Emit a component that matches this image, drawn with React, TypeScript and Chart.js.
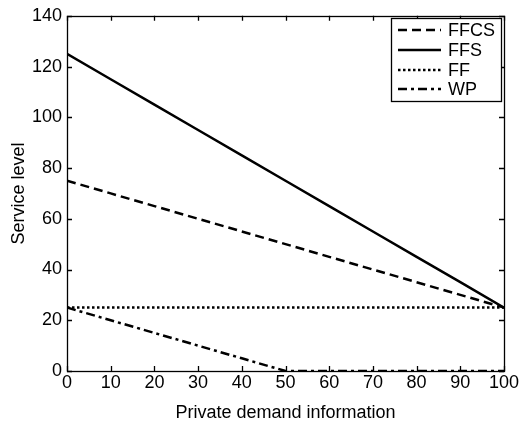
import React, { useEffect, useRef } from "react";
import { Chart, registerables } from "chart.js";

Chart.register(...registerables);

const xValues = [0, 10, 20, 30, 40, 50, 60, 70, 80, 90, 100];
const ffcs = [75, 70, 65, 60, 55, 50, 45, 40, 35, 30, 25];
const ffs = [125, 115, 105, 95, 85, 75, 65, 55, 45, 35, 25];
const ff = [25, 25, 25, 25, 25, 25, 25, 25, 25, 25, 25];
const wp = [25, 20, 15, 10, 5, 0, 0, 0, 0, 0, 0];
const seriesLabels = ["FFCS", "FFS", "FF", "WP"];
const xTicks = [0, 10, 20, 30, 40, 50, 60, 70, 80, 90, 100];
const yTicks = [0, 20, 40, 60, 80, 100, 120, 140];

const FONT = "'Liberation Sans', Arial, Helvetica, sans-serif";
const FS = 18;

const boxPlugin = {
  id: "matlabBox",
  afterDatasetsDraw(chart: any) {
    const { ctx, chartArea, scales } = chart;
    const { left, right, top, bottom } = chartArea;
    ctx.save();
    ctx.strokeStyle = "#000";
    ctx.lineWidth = 1.3;
    ctx.setLineDash([]);
    ctx.strokeRect(Math.round(left) + 0.5, Math.round(top) + 0.5, Math.round(right - left), Math.round(bottom - top));
    const tl = 5;
    ctx.beginPath();
    xTicks.forEach((v) => {
      const px = Math.round(scales.x.getPixelForValue(v)) + 0.5;
      ctx.moveTo(px, bottom);
      ctx.lineTo(px, bottom - tl);
      ctx.moveTo(px, top);
      ctx.lineTo(px, top + tl);
    });
    yTicks.forEach((v) => {
      const py = Math.round(scales.y.getPixelForValue(v)) + 0.5;
      ctx.moveTo(left, py);
      ctx.lineTo(left + tl, py);
      ctx.moveTo(right, py);
      ctx.lineTo(right - tl, py);
    });
    ctx.stroke();

    // legend
    const bx = 391, by = 18, bw = 110, bh = 83;
    ctx.fillStyle = "#fff";
    ctx.fillRect(bx, by, bw, bh);
    ctx.strokeRect(bx + 0.5, by + 0.5, bw, bh);
    const rows = [30, 50, 70, 89];
    chart.data.datasets.forEach((ds: any, i: number) => {
      const y = rows[i];
      ctx.beginPath();
      ctx.setLineDash(ds.borderDash || []);
      ctx.lineWidth = ds.borderWidth;
      ctx.strokeStyle = "#000";
      ctx.moveTo(398, y);
      ctx.lineTo(441, y);
      ctx.stroke();
      ctx.setLineDash([]);
      ctx.fillStyle = "#000";
      ctx.font = `${FS}px ${FONT}`;
      ctx.textBaseline = "middle";
      ctx.textAlign = "left";
      ctx.fillText(ds.label, 448, y + 1);
    });
    ctx.restore();
  },
};

export default function App() {
  const ref = useRef<HTMLCanvasElement | null>(null);
  useEffect(() => {
    if (!ref.current) return;
    const mk = (vals: number[]) => xValues.map((x, i) => ({ x, y: vals[i] }));
    const common = { borderColor: "#000", backgroundColor: "#000", pointRadius: 0, fill: false, tension: 0, borderWidth: 2.5 };
    const chart = new Chart(ref.current, {
      type: "line",
      data: {
        datasets: [
          { ...common, label: seriesLabels[0], data: mk(ffcs), borderDash: [9, 5] },
          { ...common, label: seriesLabels[1], data: mk(ffs), borderDash: [] },
          { ...common, label: seriesLabels[2], data: mk(ff), borderDash: [2.5, 2.5] },
          { ...common, label: seriesLabels[3], data: mk(wp), borderDash: [9, 4, 3, 4] },
        ],
      },
      options: {
        animation: false,
        responsive: false,
        layout: { padding: { top: 11, right: 24, left: 0, bottom: 4 } },
        plugins: { legend: { display: false }, tooltip: { enabled: false } },
        scales: {
          x: {
            type: "linear",
            min: 0,
            max: 100,
            grid: { display: false, drawTicks: false },
            border: { display: false },
            afterBuildTicks: (s: any) => { s.ticks = xTicks.map((v) => ({ value: v })); },
            afterFit: (s: any) => { s.height = 53; },
            ticks: { color: "#000", font: { family: FONT, size: FS }, padding: 1, maxRotation: 0, autoSkip: false },
            title: { display: true, text: "Private demand information", color: "#000", font: { family: FONT, size: FS }, padding: { top: 0, bottom: 0 } },
          },
          y: {
            type: "linear",
            min: 0,
            max: 140,
            grid: { display: false, drawTicks: false },
            border: { display: false },
            afterBuildTicks: (s: any) => { s.ticks = yTicks.map((v) => ({ value: v })); },
            afterFit: (s: any) => { s.width = 67; },
            ticks: { color: "#000", font: { family: FONT, size: FS }, padding: 5, autoSkip: false },
            title: { display: true, text: "Service level", color: "#000", font: { family: FONT, size: FS }, padding: { top: 8, bottom: 0 } },
          },
        },
      },
      plugins: [boxPlugin],
    });
    return () => chart.destroy();
  }, []);
  return (
    <div style={{ position: "fixed", left: 0, top: 0, width: 528, height: 428, background: "#fff" }}>
      <canvas ref={ref} width={528} height={428} />
    </div>
  );
}
